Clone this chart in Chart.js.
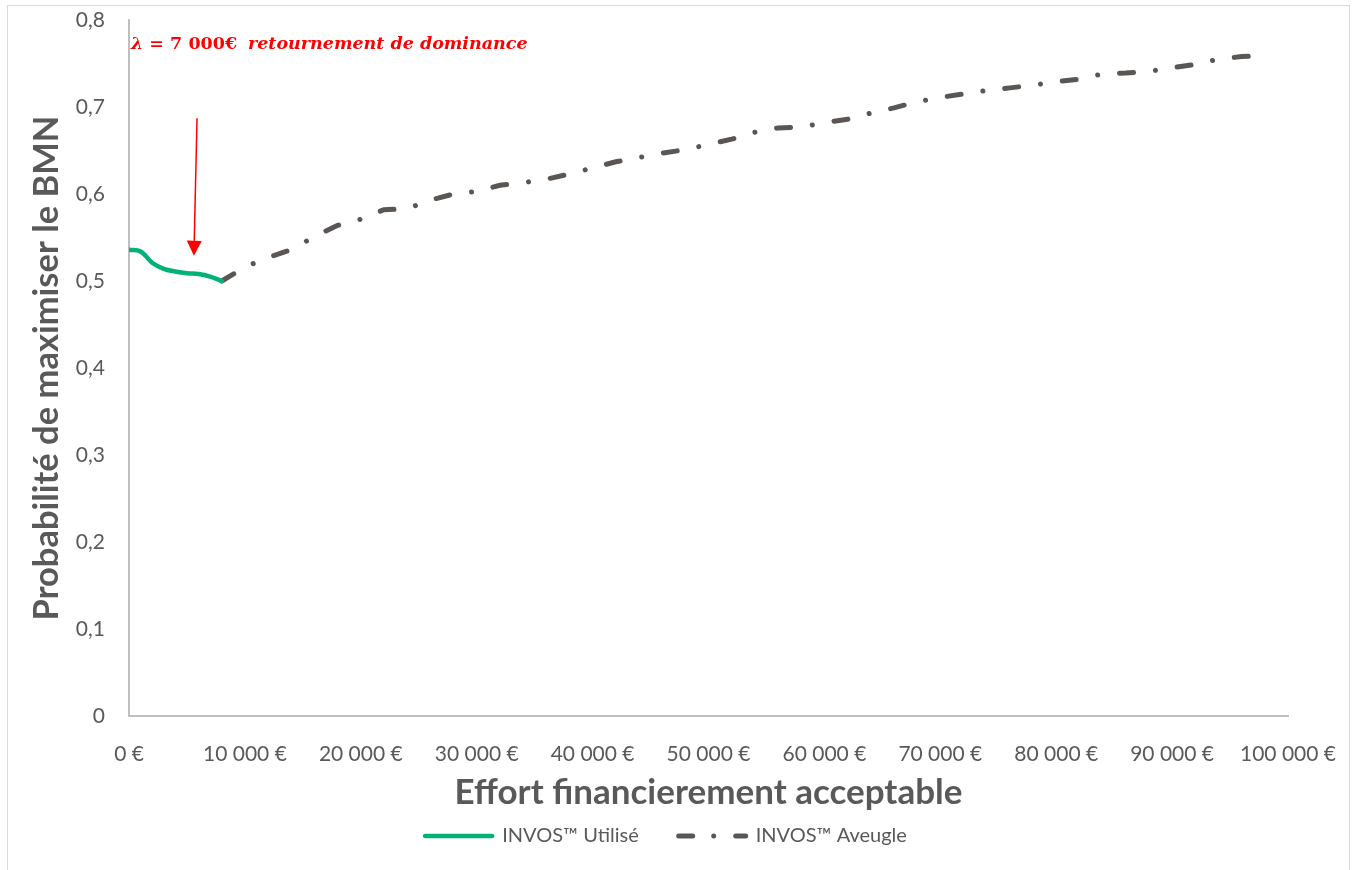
<!DOCTYPE html>
<html lang="fr">
<head>
<meta charset="utf-8">
<title>Probabilité de maximiser le BMN</title>
<script src="https://cdn.jsdelivr.net/npm/chart.js@4.4.1/dist/chart.umd.min.js"></script>
<style>
  html, body { margin: 0; padding: 0; background: #fff; }
  #wrap { position: relative; width: 1356px; height: 870px; }
  #frame { position: absolute; left: 7px; top: 5px; width: 1343px; height: 870px; border: 1px solid #d9d9d9; box-sizing: border-box; pointer-events: none; }
</style>
</head>
<body>
<div id="wrap">
  <canvas id="bmnChart" width="1356" height="870"></canvas>
  <div id="frame"></div>
</div>
<script>
'use strict';

// Effort financier (€) et probabilité de maximiser le BMN
const usedX = [0, 1000, 2000, 3000, 4000, 5000, 6000, 7000, 8000];
const usedY = [0.536, 0.534, 0.521, 0.514, 0.511, 0.509, 0.508, 0.505, 0.5];

const blindX = [
  8000, 10000, 12000, 14000, 16000, 18000, 20000, 22000, 24000, 26000, 28000,
  30000, 32000, 34000, 36000, 38000, 40000, 42000, 44000, 46000, 48000, 50000,
  52000, 54000, 56000, 58000, 60000, 62000, 64000, 66000, 68000, 70000, 72000,
  74000, 76000, 78000, 80000, 82000, 84000, 86000, 88000, 90000, 92000, 94000,
  96000, 98000,
];
const blindY = [
  0.5, 0.516, 0.527, 0.536, 0.551, 0.564, 0.571, 0.582, 0.583, 0.593, 0.6,
  0.603, 0.61, 0.613, 0.617, 0.623, 0.63, 0.637, 0.642, 0.647, 0.651, 0.657,
  0.663, 0.671, 0.676, 0.677, 0.682, 0.686, 0.693, 0.699, 0.706, 0.711, 0.715,
  0.719, 0.722, 0.725, 0.729, 0.732, 0.738, 0.739, 0.741, 0.745, 0.749, 0.755,
  0.758, 0.759,
];

const seriesNames = ['INVOS™ Utilisé', 'INVOS™ Aveugle'];

// Flèche du point de retournement (début, pointe)
const arrowFrom = [5870, 0.687];
const arrowTo = [5600, 0.529];

const textColor = '#595959';
const red = '#ff0000';

const toPoints = (xs, ys) => xs.map((x, i) => ({ x, y: ys[i] }));

const formatEuro = value =>
  String(value).replace(/\B(?=(\d{3})+(?!\d))/g, ' ') + ' €';

const formatProba = value =>
  value === 0 ? '0' : value.toFixed(1).replace('.', ',');

// Légende : reprendre le tiret et l'épaisseur de chaque courbe
function legendLabels(chart) {
  const items = Chart.defaults.plugins.legend.labels.generateLabels(chart);
  return items.map(item => {
    const ds = chart.data.datasets[item.datasetIndex];
    return Object.assign(item, {
      lineDash: ds.legendDash || [],
      lineWidth: ds.borderWidth,
      lineCap: 'round',
      strokeStyle: ds.borderColor,
    });
  });
}

// Annotation en rouge : texte + flèche
const dominancePlugin = {
  id: 'dominance',
  afterDatasetsDraw(chart) {
    const { ctx, chartArea, scales: { x, y } } = chart;
    ctx.save();

    const x0 = x.getPixelForValue(arrowFrom[0]);
    const y0 = y.getPixelForValue(arrowFrom[1]);
    const x1 = x.getPixelForValue(arrowTo[0]);
    const y1 = y.getPixelForValue(arrowTo[1]);
    const ang = Math.atan2(y1 - y0, x1 - x0);
    const headLen = 15;
    const headHalf = 7.5;
    const hx = x1 - headLen * Math.cos(ang);
    const hy = y1 - headLen * Math.sin(ang);

    ctx.strokeStyle = red;
    ctx.lineWidth = 1.5;
    ctx.beginPath();
    ctx.moveTo(x0, y0);
    ctx.lineTo(hx, hy);
    ctx.stroke();

    ctx.fillStyle = red;
    ctx.beginPath();
    ctx.moveTo(x1, y1);
    ctx.lineTo(hx + headHalf * Math.sin(ang), hy - headHalf * Math.cos(ang));
    ctx.lineTo(hx - headHalf * Math.sin(ang), hy + headHalf * Math.cos(ang));
    ctx.closePath();
    ctx.fill();

    // λ = 7 000€  retournement de dominance
    const baseY = chartArea.top + 29;
    let tx = chartArea.left + 2;
    ctx.textBaseline = 'alphabetic';
    ctx.textAlign = 'left';
    ctx.font = 'italic bold 17.5px "DejaVu Serif"';
    ctx.fillText('λ', tx, baseY);
    tx += ctx.measureText('λ').width;
    ctx.font = 'bold 17.5px "DejaVu Serif"';
    ctx.fillText(' = 7 000€', tx, baseY);
    ctx.font = 'italic bold 17.5px "DejaVu Serif"';
    ctx.fillText('retournement de dominance', chartArea.left + 119, baseY);

    ctx.restore();
  },
};

const ctx = document.getElementById('bmnChart').getContext('2d');

new Chart(ctx, {
  type: 'line',
  data: {
    datasets: [
      {
        label: seriesNames[0],
        data: toPoints(usedX, usedY),
        borderColor: '#00b274',
        backgroundColor: '#00b274',
        borderWidth: 4.5,
        borderCapStyle: 'round',
        tension: 0.35,
        pointRadius: 0,
        fill: false,
      },
      {
        label: seriesNames[1],
        data: toPoints(blindX, blindY),
        borderColor: '#5a5654',
        backgroundColor: '#5a5654',
        borderWidth: 5,
        borderCapStyle: 'round',
        borderDash: [14, 22, 0.01, 22],
        legendDash: [14, 21, 0.01, 22],
        tension: 0,
        pointRadius: 0,
        fill: false,
      },
    ],
  },
  options: {
    responsive: false,
    animation: false,
    layout: { padding: { left: 44, right: 68, top: 20, bottom: 14 } },
    plugins: {
      legend: {
        position: 'bottom',
        labels: {
          usePointStyle: true,
          pointStyle: 'line',
          pointStyleWidth: 67,
          color: textColor,
          font: { family: 'Lato', size: 20 },
          padding: 40,
          generateLabels: legendLabels,
        },
      },
      tooltip: { enabled: false },
    },
    scales: {
      x: {
        type: 'linear',
        min: 0,
        max: 100000,
        grid: { display: false },
        border: { color: '#bfbfbf', width: 2 },
        ticks: {
          stepSize: 10000,
          maxRotation: 0,
          autoSkip: false,
          color: textColor,
          font: { family: 'Lato', size: 21 },
          padding: 18,
          callback: formatEuro,
        },
        title: {
          display: true,
          text: 'Effort financierement acceptable',
          color: textColor,
          font: { family: 'Lato', size: 35, weight: 'bold' },
          padding: { top: 0, bottom: -28 },
        },
        afterFit: scale => {
          scale.height = 70;
        },
      },
      y: {
        min: 0,
        max: 0.8,
        grid: { display: false },
        border: { color: '#bfbfbf', width: 2 },
        ticks: {
          stepSize: 0.1,
          color: textColor,
          font: { family: 'Lato', size: 21 },
          padding: 16,
          callback: formatProba,
        },
        title: {
          display: true,
          text: 'Probabilité de maximiser le BMN',
          color: textColor,
          font: { family: 'Lato', size: 34.5, weight: 'bold' },
          padding: { top: -18, bottom: 0 },
        },
        afterFit: scale => {
          scale.width = 85;
          scale.paddingTop = 0;
          scale.paddingBottom = 0;
        },
      },
    },
  },
  plugins: [dominancePlugin],
});
</script>
</body>
</html>
